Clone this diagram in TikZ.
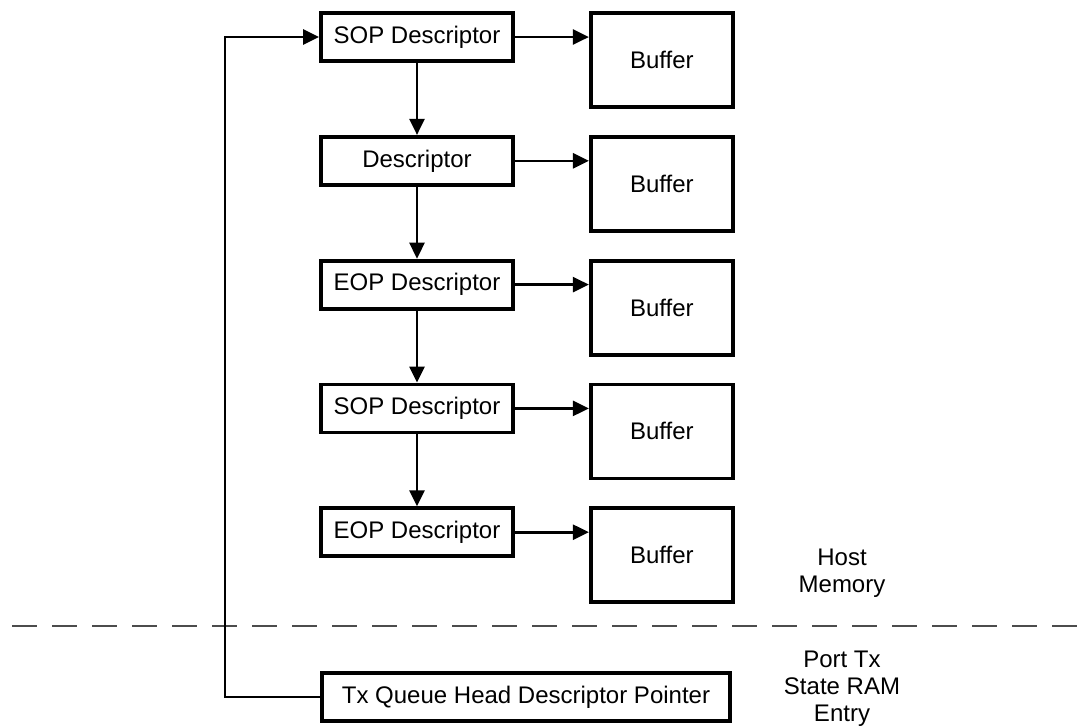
\documentclass[tikz,border=0pt]{standalone}
\usepackage{fontspec}
\setmainfont{Liberation Sans}
\usepackage{tikz}
\usetikzlibrary{arrows.meta, positioning, calc}
\tikzset{
  descbox/.style={
    rectangle, draw=black, line width=1.9pt,
    minimum width=96pt, minimum height=24pt,
    inner sep=0pt, text centered,
    font=\fontsize{12}{14}\selectfont
  },
  bufbox/.style={
    rectangle, draw=black, line width=1.9pt,
    minimum width=71pt, minimum height=47pt,
    inner sep=0pt, text centered,
    font=\fontsize{12}{14}\selectfont
  },
  ptrbox/.style={
    rectangle, draw=black, line width=1.9pt,
    minimum width=204pt, minimum height=24pt,
    inner sep=0pt, text centered,
    font=\fontsize{12}{14}\selectfont
  },
  sidelabel/.style={
    align=center, inner sep=0pt,
    font=\fontsize{12}{13.5}\selectfont
  },
  arrow/.style={-{Triangle[length=8pt, width=7.5pt]}, line width=1.3pt},
  divider/.style={line width=0.8pt, color=black!70, dash pattern=on 12.5pt off 7.5pt},
}

\begin{document}
\begin{tikzpicture}[x=0.5pt, y=-0.5pt, node distance=36pt and 37pt]
  \useasboundingbox (0,0) rectangle (1083,725);

  \node[descbox] (sop1) at (417,37) {SOP Descriptor};
  \node[descbox, below=of sop1] (desc2) {Descriptor};
  \node[descbox, below=of desc2] (eop3) {EOP Descriptor};
  \node[descbox, below=of eop3] (sop4) {SOP Descriptor};
  \node[descbox, below=of sop4] (eop5) {EOP Descriptor};

  \node[bufbox, right=of sop1.north east, anchor=north west] (buf1) {Buffer};
  \node[bufbox, right=of desc2.north east, anchor=north west] (buf2) {Buffer};
  \node[bufbox, right=of eop3.north east, anchor=north west] (buf3) {Buffer};
  \node[bufbox, right=of sop4.north east, anchor=north west] (buf4) {Buffer};
  \node[bufbox, right=of eop5.north east, anchor=north west] (buf5) {Buffer};

  \node[ptrbox] (txptr) at (526,697) {Tx Queue Head Descriptor Pointer};

  \node[sidelabel] (hostmem) at (842,573) {Host\\Memory};
  \node[sidelabel] (portram) at (842,689) {Port Tx\\State RAM\\Entry};

  \coordinate (divl) at (12,626);
  \coordinate (divr) at (1077,626);
  \coordinate (rail) at (225,0);
  \draw[divider] (divl) -- (divr);

  \draw[arrow] (sop1) -- (desc2);
  \draw[arrow] (desc2) -- (eop3);
  \draw[arrow] (eop3) -- (sop4);
  \draw[arrow] (sop4) -- (eop5);

  \draw[arrow] (sop1) -- (sop1 -| buf1.west);
  \draw[arrow] (desc2) -- (desc2 -| buf2.west);
  \draw[arrow] (eop3) -- (eop3 -| buf3.west);
  \draw[arrow] (sop4) -- (sop4 -| buf4.west);
  \draw[arrow] (eop5) -- (eop5 -| buf5.west);

  \draw[arrow] (txptr.west) -- (txptr.west -| rail) |- (sop1.west);
\end{tikzpicture}
\end{document}
